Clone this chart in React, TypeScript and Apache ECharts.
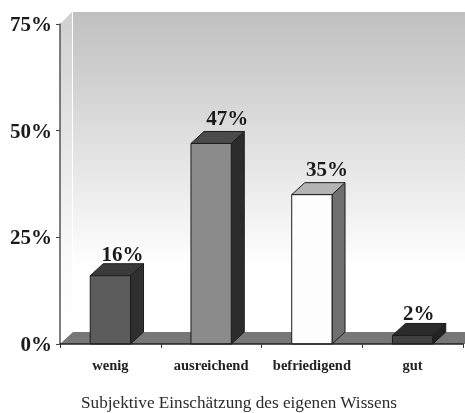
import React, { useEffect, useRef } from "react";
import * as echarts from "echarts";

const categories = ["wenig", "ausreichend", "befriedigend", "gut"];
const values = [16, 47, 35, 2];
const yTicks = [0, 25, 50, 75];
const axisTitle = "Subjektive Einschätzung des eigenen Wissens";
const frontColors = ["#5c5c5c", "#8b8b8b", "#fdfdfd", "#414141"];
const topColors = ["#3a3a3a", "#4b4b4b", "#b4b4b4", "#2b2b2b"];
const sideColors = ["#2f2f2f", "#2c2c2c", "#6f6f6f", "#222222"];
const labelShiftX = [12, 16, 15, 6];
const labelShiftY = [4, 0, 0, 3];

const DX = 13;
const DY = 12;
const EDGE = "#1c1c1c";
const FONT = '"Liberation Serif", serif';

export default function App() {
  const ref = useRef<HTMLDivElement>(null);
  useEffect(() => {
    const chart = echarts.init(ref.current!, undefined, { renderer: "svg" });
    chart.setOption({
      animation: false,
      backgroundColor: "#ffffff",
      title: {
        text: axisTitle,
        left: 81,
        top: 394,
        padding: 0,
        textStyle: { fontFamily: FONT, fontSize: 17.2, fontWeight: "normal", color: "#2a2a2a" },
      },
      grid: { left: 60, right: 2, top: 24, bottom: 69 },
      xAxis: {
        type: "category",
        data: categories,
        boundaryGap: true,
        axisLine: { lineStyle: { color: "#222", width: 1.5 } },
        axisTick: { show: true, length: 4, interval: 0, lineStyle: { color: "#333" } },
        axisLabel: {
          fontFamily: FONT,
          fontWeight: "bold",
          fontSize: 14.5,
          color: "#222",
          margin: 13,
          interval: 0,
          hideOverlap: false,
        },
        z: 5,
      },
      yAxis: {
        type: "value",
        min: yTicks[0],
        max: yTicks[yTicks.length - 1],
        interval: 25,
        splitLine: { show: false },
        axisLine: { show: true, lineStyle: { color: "#555", width: 1.5 } },
        axisTick: { show: true, length: 4, lineStyle: { color: "#444" } },
        axisLabel: {
          fontFamily: FONT,
          fontWeight: "bold",
          fontSize: 21,
          color: "#1a1a1a",
          margin: 8,
          formatter: (v: number) => `${v}%`,
        },
        z: 5,
      },
      series: [
        {
          type: "custom",
          coordinateSystem: "cartesian2d",
          clip: false,
          silent: true,
          z: 1,
          data: [[0, 0]],
          encode: { x: 0, y: 1 },
          renderItem: (_p: any, api: any) => {
            const bottom = api.coord([0, 0])[1];
            const top = api.coord([0, yTicks[yTicks.length - 1]])[1];
            const band = api.size([1, 0])[0];
            const left = api.coord([0, 0])[0] - band / 2;
            const right = left + band * categories.length + 2;
            const wallGrad = new echarts.graphic.LinearGradient(0, 0, 0, 1, [
              { offset: 0, color: "#c0c0c0" },
              { offset: 0.8, color: "#ffffff" },
              { offset: 1, color: "#ffffff" },
            ]);
            const sideGrad = new echarts.graphic.LinearGradient(0, 0, 0, 1, [
              { offset: 0, color: "#cfcfcf" },
              { offset: 0.75, color: "#fbfbfb" },
              { offset: 1, color: "#ffffff" },
            ]);
            return {
              type: "group",
              children: [
                {
                  type: "polygon",
                  shape: {
                    points: [
                      [left + DX, top - DY],
                      [right, top - DY],
                      [right, bottom - DY],
                      [left + DX, bottom - DY],
                    ],
                  },
                  style: { fill: wallGrad },
                },
                {
                  type: "polygon",
                  shape: {
                    points: [
                      [left, top],
                      [left + DX - 1, top - DY],
                      [left + DX - 1, bottom - DY],
                      [left, bottom],
                    ],
                  },
                  style: { fill: sideGrad },
                },
                {
                  type: "polygon",
                  shape: {
                    points: [
                      [left, bottom],
                      [left + DX, bottom - DY],
                      [right, bottom - DY],
                      [right, bottom],
                    ],
                  },
                  style: { fill: "#777777" },
                },
              ],
            };
          },
        },
        {
          type: "custom",
          coordinateSystem: "cartesian2d",
          clip: false,
          silent: true,
          z: 3,
          data: values.map((v, i) => [i, v]),
          encode: { x: 0, y: 1 },
          renderItem: (p: any, api: any) => {
            const i = p.dataIndex;
            const [cx, yTop] = api.coord([api.value(0), api.value(1)]);
            const [, y0] = api.coord([api.value(0), 0]);
            const w = api.size([1, 0])[0] * 0.4;
            const x0 = cx - w / 2;
            const x1 = cx + w / 2;
            const stroke = { stroke: EDGE, lineWidth: 1 };
            return {
              type: "group",
              children: [
                {
                  type: "polygon",
                  shape: {
                    points: [
                      [x1, yTop],
                      [x1 + DX, yTop - DY],
                      [x1 + DX, y0 - DY],
                      [x1, y0],
                    ],
                  },
                  style: { fill: sideColors[i], ...stroke },
                },
                {
                  type: "polygon",
                  shape: {
                    points: [
                      [x0, yTop],
                      [x0 + DX, yTop - DY],
                      [x1 + DX, yTop - DY],
                      [x1, yTop],
                    ],
                  },
                  style: { fill: topColors[i], ...stroke },
                },
                {
                  type: "rect",
                  shape: { x: x0, y: yTop, width: w, height: y0 - yTop },
                  style: { fill: frontColors[i], ...stroke },
                },
                {
                  type: "text",
                  x: cx + labelShiftX[i],
                  y: yTop - DY - 3 + labelShiftY[i],
                  style: {
                    text: `${values[i]}%`,
                    fontFamily: FONT,
                    fontWeight: "bold",
                    fontSize: 21,
                    fill: "#1a1a1a",
                    align: "center",
                    verticalAlign: "bottom",
                  },
                },
              ],
            };
          },
        },
      ],
    });
    return () => chart.dispose();
  }, []);
  return (
    <div
      ref={ref}
      style={{ position: "fixed", left: 0, top: 0, width: 465, height: 413, filter: "blur(0.55px)" }}
    />
  );
}
